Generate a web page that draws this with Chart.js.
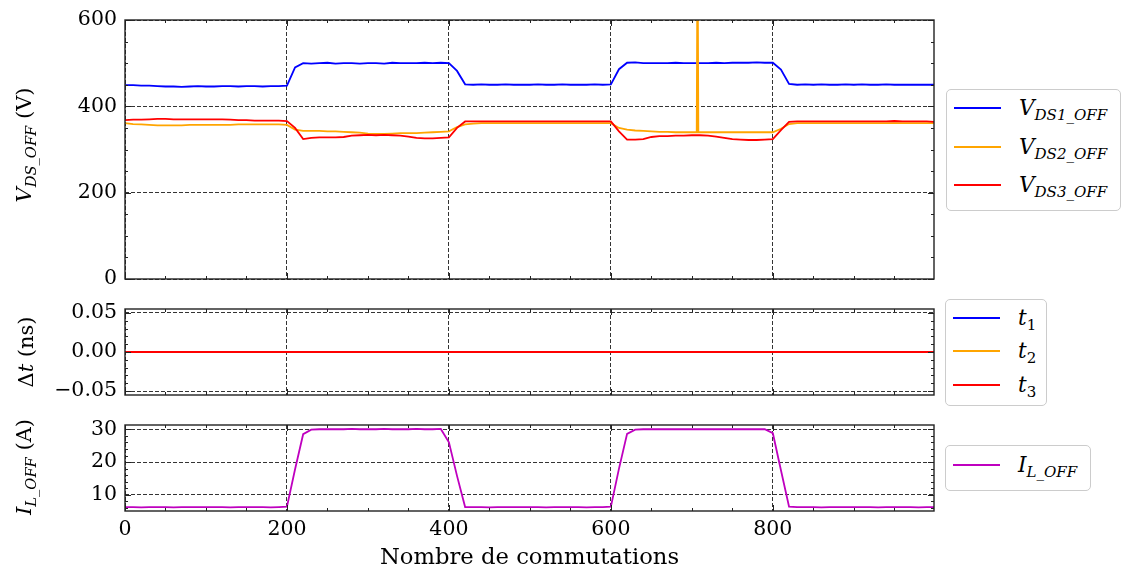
<!DOCTYPE html>
<html>
<head>
<meta charset="utf-8">
<script src="https://cdn.jsdelivr.net/npm/chart.js@4.4.1/dist/chart.umd.min.js"></script>
<style>
  body{margin:0;background:#fff;width:1122px;height:574px;position:relative;overflow:hidden;font-family:"DejaVu Serif",serif;color:#000;}
  canvas{position:absolute;left:0;}
  .ylab{position:absolute;font-size:21px;white-space:nowrap;transform:translate(-50%,-50%) rotate(-90deg);line-height:24px;}
  .leg{position:absolute;border:1.5px solid #ccc;border-radius:5px;background:#fff;box-sizing:border-box;}
  .item{position:absolute;left:7px;height:0;width:0;}
  .item .hl{position:absolute;left:0;top:-1px;width:47px;height:2px;}
  .item .tx{position:absolute;left:65px;top:-14px;font-size:21.5px;font-style:italic;white-space:nowrap;line-height:28px;}
  sub{font-size:70%;vertical-align:-0.35em;line-height:0;}
</style>
</head>
<body>
<canvas id="cV" width="945" height="290" style="top:0"></canvas>
<canvas id="cT" width="945" height="106" style="top:299px"></canvas>
<canvas id="cI" width="945" height="159" style="top:415px"></canvas>

<div class="ylab" style="left:24px;top:145px"><i>V</i><sub><i>DS_OFF</i></sub> (V)</div>
<div class="ylab" style="left:26px;top:352px">&Delta;<i>t</i> (ns)</div>
<div class="ylab" style="left:24px;top:467px"><i>I</i><sub><i>L_OFF</i></sub> (A)</div>

<div class="leg" style="left:946px;top:89px;width:175px;height:122px">
  <div class="item" style="top:18px"><span class="hl" style="background:#0000ff"></span><span class="tx">V<sub>DS1_OFF</sub></span></div>
  <div class="item" style="top:57px"><span class="hl" style="background:#ffa500"></span><span class="tx">V<sub>DS2_OFF</sub></span></div>
  <div class="item" style="top:95px"><span class="hl" style="background:#ff0000"></span><span class="tx">V<sub>DS3_OFF</sub></span></div>
</div>
<div class="leg" style="left:945px;top:299px;width:102px;height:107px">
  <div class="item" style="top:18px"><span class="hl" style="background:#0000ff"></span><span class="tx">t<sub style="font-style:normal">1</sub></span></div>
  <div class="item" style="top:51px"><span class="hl" style="background:#ffa500"></span><span class="tx">t<sub style="font-style:normal">2</sub></span></div>
  <div class="item" style="top:85px"><span class="hl" style="background:#ff0000"></span><span class="tx">t<sub style="font-style:normal">3</sub></span></div>
</div>
<div class="leg" style="left:945px;top:445px;width:146px;height:46px">
  <div class="item" style="top:19px"><span class="hl" style="background:#bf00bf"></span><span class="tx">I<sub>L_OFF</sub></span></div>
</div>

<script>
// sample positions (commutation index)
const xs = [
  0,10,20,30,40,50,60,70,80,90,
  100,110,120,130,140,150,160,170,180,190,
  200,210,220,230,240,250,260,270,280,290,
  300,310,320,330,340,350,360,370,380,390,
  400,410,420,430,440,450,460,470,480,490,
  500,510,520,530,540,550,560,570,580,590,
  600,610,620,630,640,650,660,670,680,690,
  700,706,707,708,
  710,720,730,740,750,760,770,780,790,
  800,810,820,830,840,850,860,870,880,890,
  900,910,920,930,940,950,960,970,980,990,
  999
];

const vds1 = [
  449,449,448,448,447,446,446,445,446,447,
  446,446,447,447,446,447,447,446,447,447,
  448,490,500,499,500,501,499,500,500,499,
  500,500,499,501,500,500,500,501,500,501,
  500,482,451,450,451,450,450,451,450,450,
  450,451,450,450,451,450,450,450,451,450,
  451,486,501,502,500,500,500,500,501,500,
  500,500,499,500,
  500,500,501,500,501,501,501,502,501,
  501,485,452,450,451,450,451,450,450,451,
  450,451,450,450,451,450,450,450,450,450,
  450
];

const vds2 = [
  361,359,358,357,356,356,356,356,357,357,
  357,357,357,357,358,358,358,358,358,358,
  357,346,343,343,343,342,342,341,340,339,
  337,336,336,337,338,338,338,339,340,341,
  342,352,358,360,361,361,361,361,361,361,
  361,361,361,361,361,361,361,361,361,361,
  361,350,346,344,343,342,341,341,340,340,
  340,340,800,340,
  340,340,340,340,340,340,340,340,340,
  340,348,359,361,361,361,361,361,361,361,
  361,361,361,361,361,361,361,361,361,361,
  361
];

const vds3 = [
  368,369,369,370,371,371,370,370,370,370,
  370,370,370,369,368,368,367,367,367,367,
  366,350,324,327,328,328,328,329,332,333,
  334,333,334,333,332,330,327,326,326,327,
  328,350,365,365,365,365,365,365,365,365,
  365,365,365,365,365,365,365,365,365,365,
  365,342,323,323,324,329,331,331,332,332,
  333,333,333,333,
  333,332,330,327,324,323,322,322,323,
  324,345,364,365,365,365,365,365,365,365,
  365,365,365,365,365,366,365,365,365,365,
  364
];

const iL = [
  6.3,6.3,6.2,6.3,6.3,6.3,6.2,6.3,6.3,6.3,
  6.3,6.3,6.3,6.2,6.3,6.3,6.3,6.3,6.2,6.3,
  6.4,17.8,28.5,29.9,30.0,30.0,30.0,30.0,30.1,30.0,
  30.0,30.0,30.1,30.0,30.0,30.0,30.1,30.0,30.0,30.1,
  26.0,15.8,6.3,6.3,6.3,6.2,6.3,6.3,6.3,6.3,
  6.3,6.3,6.2,6.3,6.3,6.3,6.3,6.2,6.3,6.3,
  6.4,18.0,28.6,29.9,30.0,30.0,30.0,30.0,30.0,30.0,
  30.0,30.0,30.0,30.0,
  30.0,30.0,30.0,30.0,30.0,30.0,30.0,30.0,30.0,
  28.8,17.5,6.4,6.3,6.3,6.3,6.2,6.3,6.3,6.3,
  6.3,6.3,6.3,6.2,6.3,6.3,6.3,6.3,6.2,6.3,
  6.3
];

// delta t traces are flat zero
const dtX = [0, 999];
const t1 = [0, 0];
const t2 = [0, 0];
const t3 = [0, 0];

const xTicks = [0, 200, 400, 600, 800];
const vTicks = [0, 200, 400, 600];
const dtTicks = [-0.05, 0, 0.05];
const iTicks = [10, 20, 30];

Chart.defaults.font.family = '"DejaVu Serif", serif';
Chart.defaults.color = '#000';

function pts(xv, yv){ return xv.map((x,i)=>({x, y: yv[i]})); }
function range(a, b, s){ const out=[]; for(let v=a; v<=b+s/1000; v+=s) out.push(+v.toFixed(4)); return out; }

// inward ticks on all four sides + axes frame (scienceplots look)
const frameTicks = {
  id: 'frameTicks',
  afterDraw(chart, args, opts){
    const {ctx, chartArea:a, scales:{x, y}} = chart;
    ctx.save();
    ctx.strokeStyle = '#222';
    ctx.lineWidth = 1;
    const xm = (vals, len) => vals.forEach(v=>{
      const p = Math.round(x.getPixelForValue(v)) + 0.5;
      if (p < a.left || p > a.right) return;
      ctx.beginPath();
      ctx.moveTo(p, a.bottom); ctx.lineTo(p, a.bottom - len);
      ctx.moveTo(p, a.top); ctx.lineTo(p, a.top + len);
      ctx.stroke();
    });
    const ym = (vals, len) => vals.forEach(v=>{
      const p = Math.round(y.getPixelForValue(v)) + 0.5;
      if (p < a.top - 1 || p > a.bottom + 1) return;
      ctx.beginPath();
      ctx.moveTo(a.left, p); ctx.lineTo(a.left + len, p);
      ctx.moveTo(a.right, p); ctx.lineTo(a.right - len, p);
      ctx.stroke();
    });
    xm(opts.xMinor, 3); xm(opts.xMajor, 6);
    ym(opts.yMinor, 3); ym(opts.yMajor, 6);
    ctx.lineWidth = 1.4;
    ctx.strokeRect(a.left, a.top, a.right - a.left, a.bottom - a.top);
    ctx.restore();
  }
};

function line(label, data, color, order){
  return { label, data, borderColor: color, backgroundColor: color, borderWidth: 1.8, pointRadius: 0, tension: 0, order };
}

function panel(id, cfg){
  const tickFont = { family: '"DejaVu Serif", serif', size: 20.5 };
  return new Chart(document.getElementById(id), {
    type: 'line',
    data: { datasets: cfg.datasets },
    options: {
      responsive: false, animation: false, devicePixelRatio: 1,
      layout: { padding: { top: cfg.pt, right: 11, bottom: cfg.pb, left: 0 } },
      plugins: {
        legend: { display: false }, tooltip: { enabled: false },
        frameTicks: { xMajor: xTicks, xMinor: range(0, 950, 50), yMajor: cfg.yTicks, yMinor: cfg.yMinor }
      },
      scales: {
        x: {
          type: 'linear', min: 0, max: 999,
          afterBuildTicks: s => { s.ticks = xTicks.map(v => ({ value: v })); },
          afterFit: s => { s.height = cfg.xh; s.paddingLeft = 0; s.paddingRight = 0; },
          grid: { color: '#000', lineWidth: 0.8, drawTicks: false },
          border: { display: false, dash: [4, 2] },
          ticks: { display: cfg.showX, padding: 6, font: tickFont, color: '#000', maxRotation: 0 },
          title: { display: cfg.showX, text: 'Nombre de commutations', font: { family: '"DejaVu Serif", serif', size: 22.7 }, color: '#000', padding: { top: 0, bottom: 2 } }
        },
        y: {
          type: 'linear', min: cfg.ymin, max: cfg.ymax,
          afterBuildTicks: s => { s.ticks = cfg.yTicks.map(v => ({ value: v })); },
          afterFit: s => { s.width = 125; s.paddingTop = 0; s.paddingBottom = 0; },
          grid: { color: '#000', lineWidth: 0.8, drawTicks: false },
          border: { display: false, dash: [4, 2] },
          ticks: { padding: 8, font: tickFont, color: '#000', callback: cfg.fmt }
        }
      }
    },
    plugins: [frameTicks]
  });
}

panel('cV', {
  datasets: [
    line('VDS1_OFF', pts(xs, vds1), '#0000ff', 3),
    line('VDS2_OFF', pts(xs, vds2), '#ffa500', 2),
    line('VDS3_OFF', pts(xs, vds3), '#ff0000', 1)
  ],
  pt: 20, pb: 11, xh: 0, showX: false,
  ymin: 0, ymax: 600, yTicks: vTicks, yMinor: range(0, 600, 50),
  fmt: v => String(v)
});

panel('cT', {
  datasets: [
    line('t1', pts(dtX, t1), '#0000ff', 3),
    line('t2', pts(dtX, t2), '#ffa500', 2),
    line('t3', pts(dtX, t3), '#ff0000', 1)
  ],
  pt: 10, pb: 10, xh: 0, showX: false,
  ymin: -0.055, ymax: 0.055, yTicks: dtTicks, yMinor: range(-0.05, 0.05, 0.01),
  fmt: v => (v < 0 ? '\u2212' : '') + Math.abs(v).toFixed(2)
});

panel('cI', {
  datasets: [ line('IL_OFF', pts(xs, iL), '#bf00bf', 1) ],
  pt: 10, pb: 0, xh: 63, showX: true,
  ymin: 5.1, ymax: 31.3, yTicks: iTicks, yMinor: range(6, 30, 2),
  fmt: v => String(v)
});
</script>
</body>
</html>
